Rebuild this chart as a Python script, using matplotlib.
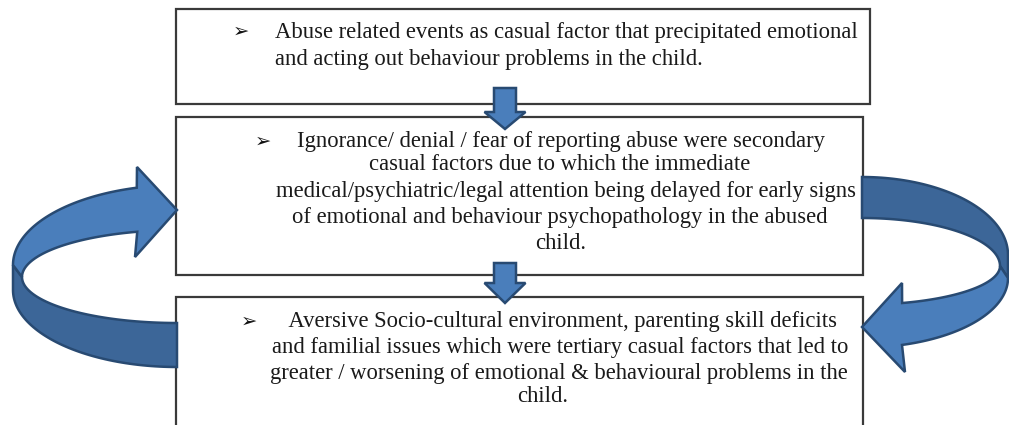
import numpy as np
import matplotlib.pyplot as plt
from matplotlib.patches import Rectangle, Polygon

W, H = 1009, 425

# box contents, one entry per printed line
box1_lines = ['Abuse related events as casual factor that precipitated emotional',
              'and acting out behaviour problems in the child.']
box2_lines = ['Ignorance/ denial / fear of reporting abuse were secondary',
              'casual factors due to which the immediate',
              'medical/psychiatric/legal attention being delayed for early signs',
              'of emotional and behaviour psychopathology in the abused',
              'child.']
box3_lines = [' Aversive Socio-cultural environment, parenting skill deficits',
              'and familial issues which were tertiary casual factors that led to',
              'greater / worsening of emotional & behavioural problems in the',
              'child.']

LIGHT = '#4a7ebb'
DARK = '#3c6698'
EDGE = '#284a72'
serif = ['Liberation Serif', 'DejaVu Serif']


def arc(cx, cy, a, b, t0, t1, n=60):
    t = np.radians(np.linspace(t0, t1, n))
    return list(zip(cx + a * np.cos(t), cy - b * np.sin(t)))


def down_arrow(ax, xc, top, base, tip, sw=11, hw=20.5):
    pts = [(xc - sw, top), (xc + sw, top), (xc + sw, base), (xc + hw, base),
           (xc, tip), (xc - hw, base), (xc - sw, base)]
    ax.add_patch(Polygon(pts, closed=True, fc=LIGHT, ec=EDGE, lw=1.8, zorder=5))


def put_lines(ax, lines, xs, ys, ha='center'):
    for txt, x, y in zip(lines, xs, ys):
        ax.text(x, y, txt, fontsize=16.3, family=serif, ha=ha, va='center',
                color='#1a1a1a', zorder=6)


fig = plt.figure(figsize=(W / 100, H / 100), dpi=100)
ax = fig.add_axes([0, 0, 1, 1])
ax.set_xlim(0, W)
ax.set_ylim(H, 0)
ax.axis('off')

# boxes
for (x, y, w, h) in [(176, 9, 694, 95), (176, 117, 687, 158), (176, 297, 687, 160)]:
    ax.add_patch(Rectangle((x, y), w, h, fc='white', ec='#3a3a3a', lw=1.6, zorder=1))

# bullets
for bx, by in [(241, 31), (263, 141), (249, 321)]:
    ax.text(bx, by, '\u27a2', fontsize=14, family=['DejaVu Sans'], ha='center',
            va='center', color='#111111', zorder=6)

put_lines(ax, box1_lines, [275, 275], [32, 59], ha='left')
put_lines(ax, box2_lines, [561, 560, 566, 560, 561], [142, 165, 191, 217, 243])
put_lines(ax, box3_lines, [561, 560, 559, 543], [322, 348, 373, 397])

# straight down arrows between boxes
down_arrow(ax, 505, 88, 112, 129)
down_arrow(ax, 505, 263, 283, 303)

# left curved arrow (box 3 back up to box 2)
dark_l = [(13, 265)] + arc(177, 290, 164, 77, 180, 270) + [(177, 323)] + arc(177, 277, 155, 46, 270, 180)
ax.add_patch(Polygon(dark_l, closed=True, fc=DARK, ec=EDGE, lw=1.8, zorder=4))
light_l = arc(180, 265, 167, 80, 180, 105) + [(137, 167), (177, 210), (135, 257)] + \
    arc(180, 277, 158, 47, 105.7, 180)
ax.add_patch(Polygon(light_l, closed=True, fc=LIGHT, ec=EDGE, lw=1.8, zorder=4))

# right curved arrow (box 2 down to box 3)
dark_r = arc(862, 255, 146, 78, 90, 0) + [(1008, 278), (1000, 266)] + arc(862, 266, 138, 48, 0, 90)
ax.add_patch(Polygon(dark_r, closed=True, fc=DARK, ec=EDGE, lw=1.8, zorder=4))
light_r = arc(862, 278, 146, 69.6, 0, -74.1) + [(905, 372), (862, 327), (902, 283)] + \
    arc(862, 266, 138, 38.7, -73.1, 0)
ax.add_patch(Polygon(light_r, closed=True, fc=LIGHT, ec=EDGE, lw=1.8, zorder=4))

fig.savefig('out.png', dpi=100)
